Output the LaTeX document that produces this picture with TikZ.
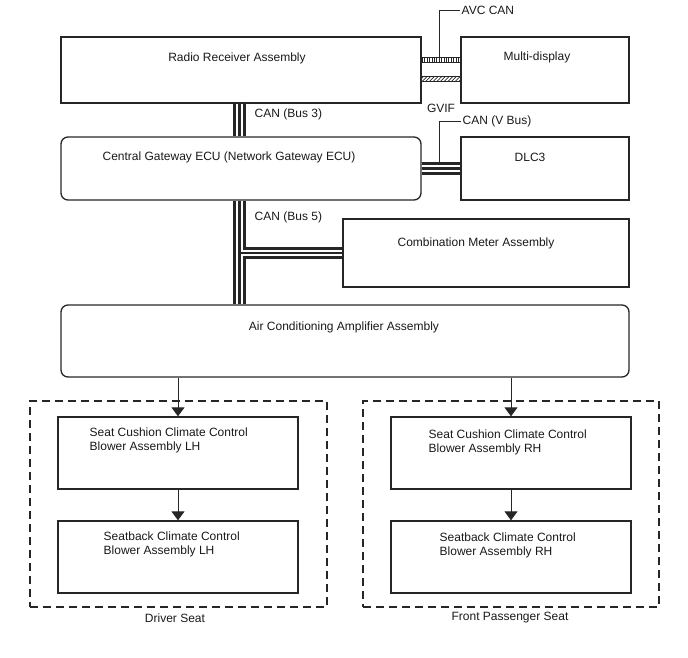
\documentclass[tikz,border=0pt]{standalone}
\usepackage{fontspec}
\setmainfont{Liberation Sans}
\usepackage{tikz}
\usetikzlibrary{arrows.meta, patterns.meta}
\colorlet{linegray}{black!85}

\tikzset{
  unitbox/.style={draw=linegray, line width=1.3pt, inner sep=0pt},
  roundbox/.style={unitbox, rounded corners=7pt},
  seatgroup/.style={draw=linegray, line width=1.3pt, inner sep=0pt, dash pattern=on 8pt off 5pt},
  lbl/.style={inner sep=1.5pt, text=black!90},
  feed/.style={draw=linegray, line width=0.8pt, -{Triangle[width=13pt,length=9pt]}},
  leader/.style={draw=linegray, line width=0.8pt},
  avcbar/.style={draw=linegray, line width=0.8pt, pattern color=linegray,
    pattern={Lines[angle=90, distance=2.4pt, line width=0.7pt]}},
  gvifbar/.style={draw=linegray, line width=0.8pt, pattern color=linegray,
    pattern={Lines[angle=45, distance=2.6pt, line width=0.7pt]}},
}

\begin{document}
\begin{tikzpicture}[x=1pt, y=-1pt, font=\fontsize{12pt}{14pt}\selectfont]
    \useasboundingbox (0,0) rectangle (688,658);

    % units
    \node[unitbox, minimum width=360pt, minimum height=66pt] (radio) at (241,70) {};
    \node[unitbox, minimum width=168pt, minimum height=66pt] (mdisp) at (545,70) {};
    \node[roundbox, minimum width=360pt, minimum height=63pt] (gateway) at (241,168.5) {};
    \node[unitbox, minimum width=168pt, minimum height=63pt] (dlc) at (545,168.5) {};
    \node[unitbox, minimum width=286pt, minimum height=68pt] (meter) at (486,253) {};
    \node[roundbox, minimum width=568pt, minimum height=72pt] (aircon) at (345,341) {};

    \node[lbl] at (237,58) {Radio Receiver Assembly};
    \node[lbl] at (537,57) {Multi-display};
    \node[lbl] at (229,157) {Central Gateway ECU (Network Gateway ECU)};
    \node[lbl] at (530,157) {DLC3};
    \node[lbl] at (476,243) {Combination Meter Assembly};
    \node[lbl] at (344,327) {Air Conditioning Amplifier Assembly};

    % seats
    \node[seatgroup, minimum width=297pt, minimum height=206pt] (drvseat) at (178.5,504) {};
    \node[seatgroup, minimum width=296pt, minimum height=206pt] (passeat) at (511,504) {};
    \node[unitbox, minimum width=240pt, minimum height=72pt] (cushL) at (178,453) {};
    \node[unitbox, minimum width=240pt, minimum height=72pt] (backL) at (178,557) {};
    \node[unitbox, minimum width=240pt, minimum height=72pt] (cushR) at (511,453) {};
    \node[unitbox, minimum width=240pt, minimum height=72pt] (backR) at (511,557) {};

    \node[lbl, anchor=west, align=left] at (88,440) {Seat Cushion Climate Control\\Blower Assembly LH};
    \node[lbl, anchor=west, align=left] at (102,544) {Seatback Climate Control\\Blower Assembly LH};
    \node[lbl, anchor=west, align=left] at (427,442) {Seat Cushion Climate Control\\Blower Assembly RH};
    \node[lbl, anchor=west, align=left] at (438,545) {Seatback Climate Control\\Blower Assembly RH};
    \node[lbl] at (175,618) {Driver Seat};
    \node[lbl] at (510,618) {Front Passenger Seat};

    \draw[feed] (aircon.south -| cushL.north) -- (cushL.north);
    \draw[feed] (cushL.south) -- (backL.north);
    \draw[feed] (aircon.south -| cushR.north) -- (cushR.north);
    \draw[feed] (cushR.south) -- (backR.north);

    % CAN buses
    \coordinate (trunk) at (239.5,0);
    \coordinate (tee) at (trunk |- meter.west);
    \foreach \w/\c in {12.5/linegray, 6.5/white, 2.2/linegray}
      \draw[line width=\w pt, draw=\c] (radio.south -| trunk) -- (gateway.north -| trunk)
        (gateway.south -| trunk) -- (aircon.north -| trunk)
        (tee) -- (meter.west)
        (gateway.east) -- (dlc.west);

    \node[lbl, anchor=west] at (253,114) {CAN (Bus 3)};
    \node[lbl, anchor=west] at (253,217) {CAN (Bus 5)};

    % AVC CAN and GVIF
    \path[avcbar] ([yshift=12.5pt]radio.east) rectangle ([yshift=7.5pt]mdisp.west);
    \path[gvifbar] ([yshift=-6.5pt]radio.east) rectangle ([yshift=-11.5pt]mdisp.west);
    \node[lbl] at (441,108) {GVIF};

    \coordinate (avctap) at (439,57.5);
    \node[lbl, anchor=west] (avclbl) at (460,10) {AVC CAN};
    \draw[leader] (avctap) |- (avclbl.west);

    \coordinate (vbustap) at (439,162.5);
    \node[lbl, anchor=west] (vbuslbl) at (461,121) {CAN (V Bus)};
    \draw[leader] (vbustap) |- (vbuslbl.west);
\end{tikzpicture}
\end{document}
